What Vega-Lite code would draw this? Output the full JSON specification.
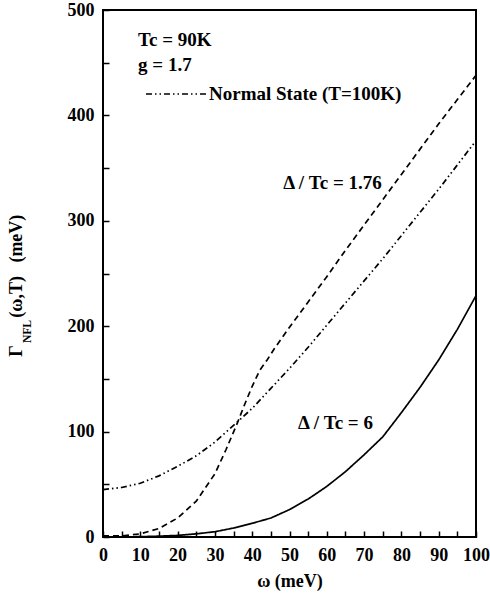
{
  "$schema": "https://vega.github.io/schema/vega-lite/v6.json",
  "width": 373,
  "height": 527,
  "autosize": {"type": "none"},
  "padding": {"left": 103, "top": 10, "right": 14, "bottom": 57},
  "config": {
    "view": {"stroke": "black", "strokeWidth": 2},
    "legend": {
      "labelFont": "Liberation Serif",
      "labelFontSize": 19,
      "labelFontWeight": "bold",
      "labelColor": "black",
      "labelLimit": 0
    }
  },
  "datasets": {
    "curves": [
      {"omega": 0, "gamma": 45, "series": "Normal State (T=100K)"},
      {"omega": 5, "gamma": 47, "series": "Normal State (T=100K)"},
      {"omega": 10, "gamma": 51, "series": "Normal State (T=100K)"},
      {"omega": 15, "gamma": 58, "series": "Normal State (T=100K)"},
      {"omega": 20, "gamma": 67, "series": "Normal State (T=100K)"},
      {"omega": 25, "gamma": 77, "series": "Normal State (T=100K)"},
      {"omega": 30, "gamma": 90, "series": "Normal State (T=100K)"},
      {"omega": 35, "gamma": 106, "series": "Normal State (T=100K)"},
      {"omega": 40, "gamma": 122, "series": "Normal State (T=100K)"},
      {"omega": 45, "gamma": 141, "series": "Normal State (T=100K)"},
      {"omega": 50, "gamma": 160, "series": "Normal State (T=100K)"},
      {"omega": 55, "gamma": 180, "series": "Normal State (T=100K)"},
      {"omega": 60, "gamma": 201, "series": "Normal State (T=100K)"},
      {"omega": 65, "gamma": 222, "series": "Normal State (T=100K)"},
      {"omega": 70, "gamma": 243, "series": "Normal State (T=100K)"},
      {"omega": 75, "gamma": 264, "series": "Normal State (T=100K)"},
      {"omega": 80, "gamma": 286, "series": "Normal State (T=100K)"},
      {"omega": 85, "gamma": 308, "series": "Normal State (T=100K)"},
      {"omega": 90, "gamma": 330, "series": "Normal State (T=100K)"},
      {"omega": 95, "gamma": 353, "series": "Normal State (T=100K)"},
      {"omega": 100, "gamma": 376, "series": "Normal State (T=100K)"},

      {"omega": 0, "gamma": 1, "series": "Δ/Tc = 1.76"},
      {"omega": 5, "gamma": 1, "series": "Δ/Tc = 1.76"},
      {"omega": 10, "gamma": 3, "series": "Δ/Tc = 1.76"},
      {"omega": 15, "gamma": 8, "series": "Δ/Tc = 1.76"},
      {"omega": 20, "gamma": 18, "series": "Δ/Tc = 1.76"},
      {"omega": 25, "gamma": 34, "series": "Δ/Tc = 1.76"},
      {"omega": 30, "gamma": 60, "series": "Δ/Tc = 1.76"},
      {"omega": 33, "gamma": 83, "series": "Δ/Tc = 1.76"},
      {"omega": 36, "gamma": 108, "series": "Δ/Tc = 1.76"},
      {"omega": 38, "gamma": 126, "series": "Δ/Tc = 1.76"},
      {"omega": 40, "gamma": 143, "series": "Δ/Tc = 1.76"},
      {"omega": 42, "gamma": 158, "series": "Δ/Tc = 1.76"},
      {"omega": 44, "gamma": 168, "series": "Δ/Tc = 1.76"},
      {"omega": 46, "gamma": 179, "series": "Δ/Tc = 1.76"},
      {"omega": 48, "gamma": 189, "series": "Δ/Tc = 1.76"},
      {"omega": 50, "gamma": 199, "series": "Δ/Tc = 1.76"},
      {"omega": 55, "gamma": 223, "series": "Δ/Tc = 1.76"},
      {"omega": 60, "gamma": 247, "series": "Δ/Tc = 1.76"},
      {"omega": 65, "gamma": 272, "series": "Δ/Tc = 1.76"},
      {"omega": 70, "gamma": 296, "series": "Δ/Tc = 1.76"},
      {"omega": 75, "gamma": 320, "series": "Δ/Tc = 1.76"},
      {"omega": 80, "gamma": 344, "series": "Δ/Tc = 1.76"},
      {"omega": 85, "gamma": 368, "series": "Δ/Tc = 1.76"},
      {"omega": 90, "gamma": 392, "series": "Δ/Tc = 1.76"},
      {"omega": 95, "gamma": 415, "series": "Δ/Tc = 1.76"},
      {"omega": 100, "gamma": 438, "series": "Δ/Tc = 1.76"},

      {"omega": 0, "gamma": 0, "series": "Δ/Tc = 6"},
      {"omega": 10, "gamma": 0.3, "series": "Δ/Tc = 6"},
      {"omega": 15, "gamma": 0.8, "series": "Δ/Tc = 6"},
      {"omega": 20, "gamma": 1.5, "series": "Δ/Tc = 6"},
      {"omega": 25, "gamma": 3, "series": "Δ/Tc = 6"},
      {"omega": 30, "gamma": 5, "series": "Δ/Tc = 6"},
      {"omega": 35, "gamma": 8.5, "series": "Δ/Tc = 6"},
      {"omega": 40, "gamma": 13, "series": "Δ/Tc = 6"},
      {"omega": 45, "gamma": 18, "series": "Δ/Tc = 6"},
      {"omega": 50, "gamma": 26, "series": "Δ/Tc = 6"},
      {"omega": 55, "gamma": 36, "series": "Δ/Tc = 6"},
      {"omega": 60, "gamma": 48, "series": "Δ/Tc = 6"},
      {"omega": 65, "gamma": 62, "series": "Δ/Tc = 6"},
      {"omega": 70, "gamma": 78, "series": "Δ/Tc = 6"},
      {"omega": 75, "gamma": 95, "series": "Δ/Tc = 6"},
      {"omega": 80, "gamma": 118, "series": "Δ/Tc = 6"},
      {"omega": 85, "gamma": 142, "series": "Δ/Tc = 6"},
      {"omega": 90, "gamma": 168, "series": "Δ/Tc = 6"},
      {"omega": 95, "gamma": 197, "series": "Δ/Tc = 6"},
      {"omega": 100, "gamma": 229, "series": "Δ/Tc = 6"}
    ],
    "notes": [
      {"omega": 9.4, "gamma": 472, "text": "Tc = 90K"},
      {"omega": 9.4, "gamma": 448, "text": "g = 1.7"},
      {"omega": 48.3, "gamma": 336, "text": "Δ / Tc = 1.76"},
      {"omega": 52.3, "gamma": 108, "text": "Δ / Tc = 6"}
    ],
    "ytitle": [
      {"omega": -23.1, "gamma": 171, "text": "Γ"},
      {"omega": -23.1, "gamma": 208, "text": "(ω,T)\u00a0\u00a0\u00a0(meV)"}
    ],
    "ysub": [
      {"omega": -20.1, "gamma": 184, "text": "NFL"}
    ]
  },
  "encoding": {
    "x": {
      "field": "omega", "type": "quantitative",
      "scale": {"domain": [0, 100], "nice": false, "zero": false},
      "axis": {
        "orient": "bottom",
        "domain": false, "grid": false,
        "values": [0, 5, 10, 15, 20, 25, 30, 35, 40, 45, 50, 55, 60, 65, 70, 75, 80, 85, 90, 95, 100],
        "labelExpr": "datum.value % 10 === 0 ? datum.label : ''",
        "tickSize": -6, "tickColor": "black", "tickWidth": 1.5,
        "labelPadding": 15, "labelFlush": false, "labelOverlap": false,
        "labelFont": "Liberation Serif", "labelFontSize": 18, "labelFontWeight": "bold", "labelColor": "black",
        "title": "ω (meV)", "titlePadding": 8,
        "titleFont": "Liberation Serif", "titleFontSize": 18, "titleFontWeight": "bold", "titleColor": "black"
      }
    },
    "y": {
      "field": "gamma", "type": "quantitative",
      "scale": {"domain": [0, 500], "nice": false, "zero": false},
      "axis": {
        "orient": "left",
        "domain": false, "grid": false,
        "values": [0, 50, 100, 150, 200, 250, 300, 350, 400, 450, 500],
        "labelExpr": "datum.value % 100 === 0 ? datum.label : ''",
        "tickSize": -6, "tickColor": "black", "tickWidth": 1.5,
        "labelPadding": 15, "labelFlush": false, "labelOverlap": false,
        "labelFont": "Liberation Serif", "labelFontSize": 18, "labelFontWeight": "bold", "labelColor": "black",
        "title": null
      }
    }
  },
  "layer": [
    {
      "data": {"name": "curves"},
      "mark": {"type": "line", "color": "black", "strokeWidth": 1.7},
      "encoding": {
        "strokeDash": {
          "field": "series", "type": "nominal",
          "scale": {
            "domain": ["Δ/Tc = 6", "Δ/Tc = 1.76", "Normal State (T=100K)"],
            "range": [[1, 0], [6, 4], [6, 3, 1.5, 3, 1.5, 3]]
          },
          "legend": {
            "orient": "none",
            "legendX": 42,
            "legendY": 53,
            "title": null,
            "values": ["Normal State (T=100K)"],
            "symbolType": "stroke",
            "symbolSize": 3600,
            "symbolStrokeWidth": 1.5,
            "symbolStrokeColor": "black",
            "labelOffset": 2,
            "padding": 0
          }
        }
      }
    },
    {
      "data": {"name": "notes"},
      "mark": {"type": "text", "align": "left", "baseline": "middle", "fontSize": 19, "fontWeight": "bold", "font": "Liberation Serif", "color": "black"},
      "encoding": {"text": {"field": "text"}}
    },
    {
      "data": {"name": "ytitle"},
      "mark": {"type": "text", "align": "left", "baseline": "middle", "angle": 270, "fontSize": 18, "fontWeight": "bold", "font": "Liberation Serif", "color": "black"},
      "encoding": {"text": {"field": "text"}}
    },
    {
      "data": {"name": "ysub"},
      "mark": {"type": "text", "align": "left", "baseline": "middle", "angle": 270, "fontSize": 11.5, "fontWeight": "bold", "font": "Liberation Serif", "color": "black"},
      "encoding": {"text": {"field": "text"}}
    }
  ]
}
